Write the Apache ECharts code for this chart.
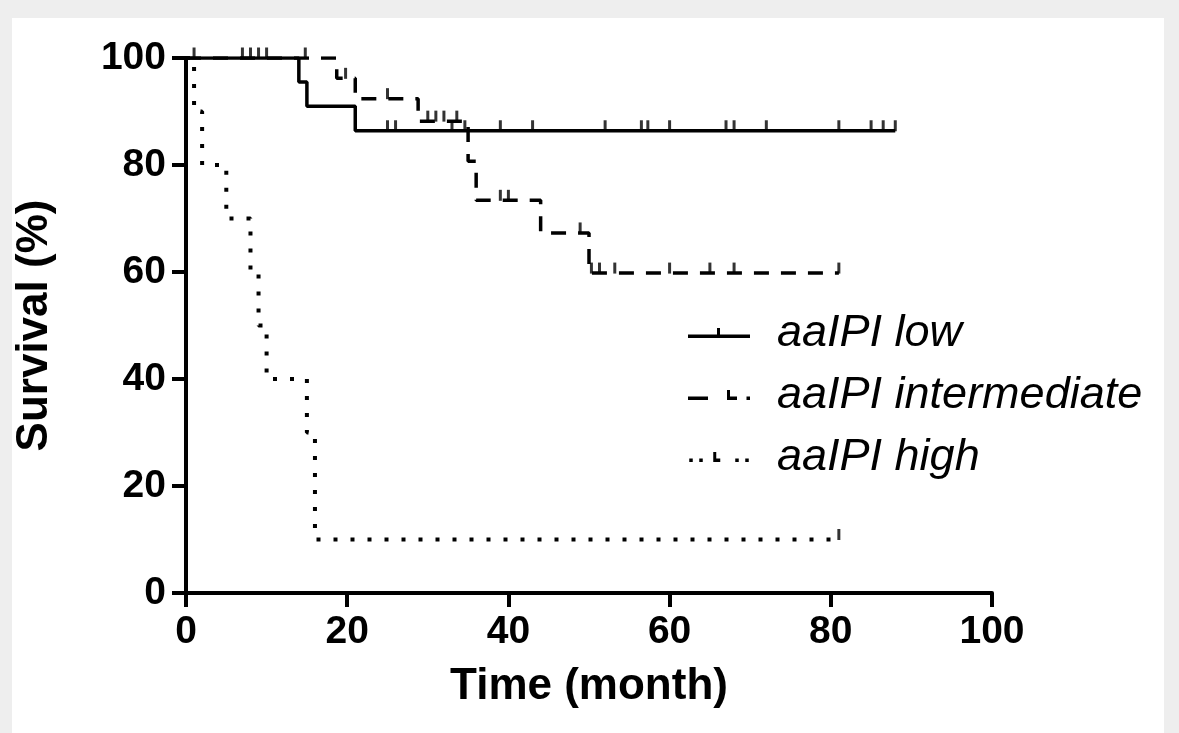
<!DOCTYPE html>
<html>
<head>
<meta charset="utf-8">
<script src="https://cdn.jsdelivr.net/npm/echarts@6/dist/echarts.min.js"></script>
<style>
  html, body { margin: 0; padding: 0; background: #eeeeee; }
  .panel { position: absolute; left: 12px; top: 18px; width: 1152px; height: 715px; background: #ffffff; }
  .com-chart { position: absolute; left: 0; top: 0; width: 1179px; height: 733px; }
</style>
</head>
<body>
<div class="panel"></div>
<div class="com-chart"></div>
<script>
// Kaplan-Meier steps
var lowTime = [0, 14, 15, 21, 88]
var lowSurv = [100, 95.5, 91.0, 86.4, 86.4]
var lowCensorTime = [1, 7, 8, 9, 10, 25, 26, 33, 34.6, 39, 43, 52, 56.5, 57.3, 60, 67, 68, 72, 81, 85, 86.5, 88]

var intTime = [0, 18.7, 21, 28.8, 35, 36, 44, 50, 81]
var intSurv = [100, 96.2, 92.4, 88.2, 80.7, 73.4, 67.3, 59.8, 59.8]
var intCensorTime = [14.8, 19.8, 25, 30, 31, 32, 33.6, 39, 40, 48.9, 50.3, 51.3, 53.2, 60, 65, 68, 81]

var highTime = [0, 1, 2, 5, 8, 9, 10, 15, 16, 81]
var highSurv = [100, 90, 80, 70, 60, 50, 40, 30, 10, 10]
var highCensorTime = [81]

var groupNames = ['aaIPI low', 'aaIPI intermediate', 'aaIPI high']
var xTicks = [0, 100, 20]   // min, max, interval
var yTicks = [0, 100, 20]

function stepData (times, surv) {
  var out = []
  for (var i = 0; i < times.length; i++) out.push([times[i], surv[i]])
  return out
}
// survival value at a censoring time
function censorData (ctimes, times, surv) {
  var out = []
  for (var i = 0; i < ctimes.length; i++) {
    var s = surv[0]
    for (var j = 0; j < times.length; j++) {
      if (times[j] <= ctimes[i]) s = surv[j]
    }
    out.push([ctimes[i], s])
  }
  return out
}

var font = "'Liberation Sans', Arial, sans-serif"
var chart = echarts.init(document.getElementsByClassName('com-chart')[0], null, { renderer: 'canvas' })

var censorStyle = {
  type: 'scatter',
  symbol: 'rect',
  symbolSize: [3, 11],
  symbolOffset: [0, -5],
  itemStyle: { color: '#000' },
  silent: true,
  z: 4
}

var option = {
  animation: false,
  backgroundColor: 'transparent',
  grid: { left: 186, right: 187, top: 58, bottom: 140 },
  xAxis: {
    type: 'value',
    min: xTicks[0], max: xTicks[1], interval: xTicks[2],
    name: 'Time (month)',
    nameLocation: 'middle',
    nameGap: 72,
    nameTextStyle: { fontFamily: font, fontWeight: 'bold', fontSize: 44, color: '#000' },
    axisLine: { lineStyle: { color: '#000', width: 4 } },
    axisTick: { length: 14, lineStyle: { color: '#000', width: 4 } },
    axisLabel: { fontFamily: font, fontWeight: 'bold', fontSize: 39, color: '#000', margin: 20 },
    splitLine: { show: false }
  },
  yAxis: {
    type: 'value',
    min: yTicks[0], max: yTicks[1], interval: yTicks[2],
    name: 'Survival (%)',
    nameLocation: 'middle',
    nameGap: 129,
    nameTextStyle: { fontFamily: font, fontWeight: 'bold', fontSize: 44, color: '#000' },
    axisLine: { show: true, lineStyle: { color: '#000', width: 4 } },
    axisTick: { show: true, length: 14, lineStyle: { color: '#000', width: 4 } },
    axisLabel: { fontFamily: font, fontWeight: 'bold', fontSize: 39, color: '#000', margin: 20 },
    splitLine: { show: false }
  },
  legend: {
    orient: 'vertical',
    left: 683,
    top: 304,
    itemWidth: 62,
    itemHeight: 10,
    itemGap: 14,
    textStyle: { fontFamily: font, fontStyle: 'italic', fontSize: 45, lineHeight: 48, color: '#000', padding: [0, 0, 0, 22] },
    data: [
      { name: groupNames[0], icon: 'path://M0,6.5L62,6.5L62,10L0,10Z M29,0L32,0L32,6.5L29,6.5Z' },
      { name: groupNames[1], icon: 'path://M0,6.5L20,6.5L20,10L0,10Z M39,0L42,0L42,6.5L49,6.5L49,10L39,10Z M58.5,6.5L62,6.5L62,10L58.5,10Z' },
      { name: groupNames[2], icon: 'path://M2.5,6.5L6,6.5L6,10L2.5,10Z M12.5,6.5L16,6.5L16,10L12.5,10Z M26.5,0L29.5,0L29.5,6.5L33.5,6.5L33.5,10L26.5,10Z M48.5,6.5L52,6.5L52,10L48.5,10Z M58.5,6.5L62,6.5L62,10L58.5,10Z' }
    ]
  },
  series: [
    {
      name: groupNames[2], type: 'line', step: 'end', symbol: 'none', z: 2,
      data: stepData(highTime, highSurv),
      lineStyle: { color: '#000', width: 4, type: [4, 13], cap: 'butt' },
      itemStyle: { color: '#000' }
    },
    {
      name: groupNames[1], type: 'line', step: 'end', symbol: 'none', z: 3,
      data: stepData(intTime, intSurv),
      lineStyle: { color: '#000', width: 3.5, type: [15, 12], cap: 'butt' },
      itemStyle: { color: '#000' }
    },
    {
      name: groupNames[0], type: 'line', step: 'end', symbol: 'none', z: 3,
      data: stepData(lowTime, lowSurv),
      lineStyle: { color: '#000', width: 3.5, type: 'solid' },
      itemStyle: { color: '#000' }
    },
    Object.assign({ name: 'low censored', data: censorData(lowCensorTime, lowTime, lowSurv) }, censorStyle),
    Object.assign({ name: 'intermediate censored', data: censorData(intCensorTime, intTime, intSurv) }, censorStyle),
    Object.assign({ name: 'high censored', data: censorData(highCensorTime, highTime, highSurv) }, censorStyle)
  ]
}
chart.setOption(option)
</script>
</body>
</html>
